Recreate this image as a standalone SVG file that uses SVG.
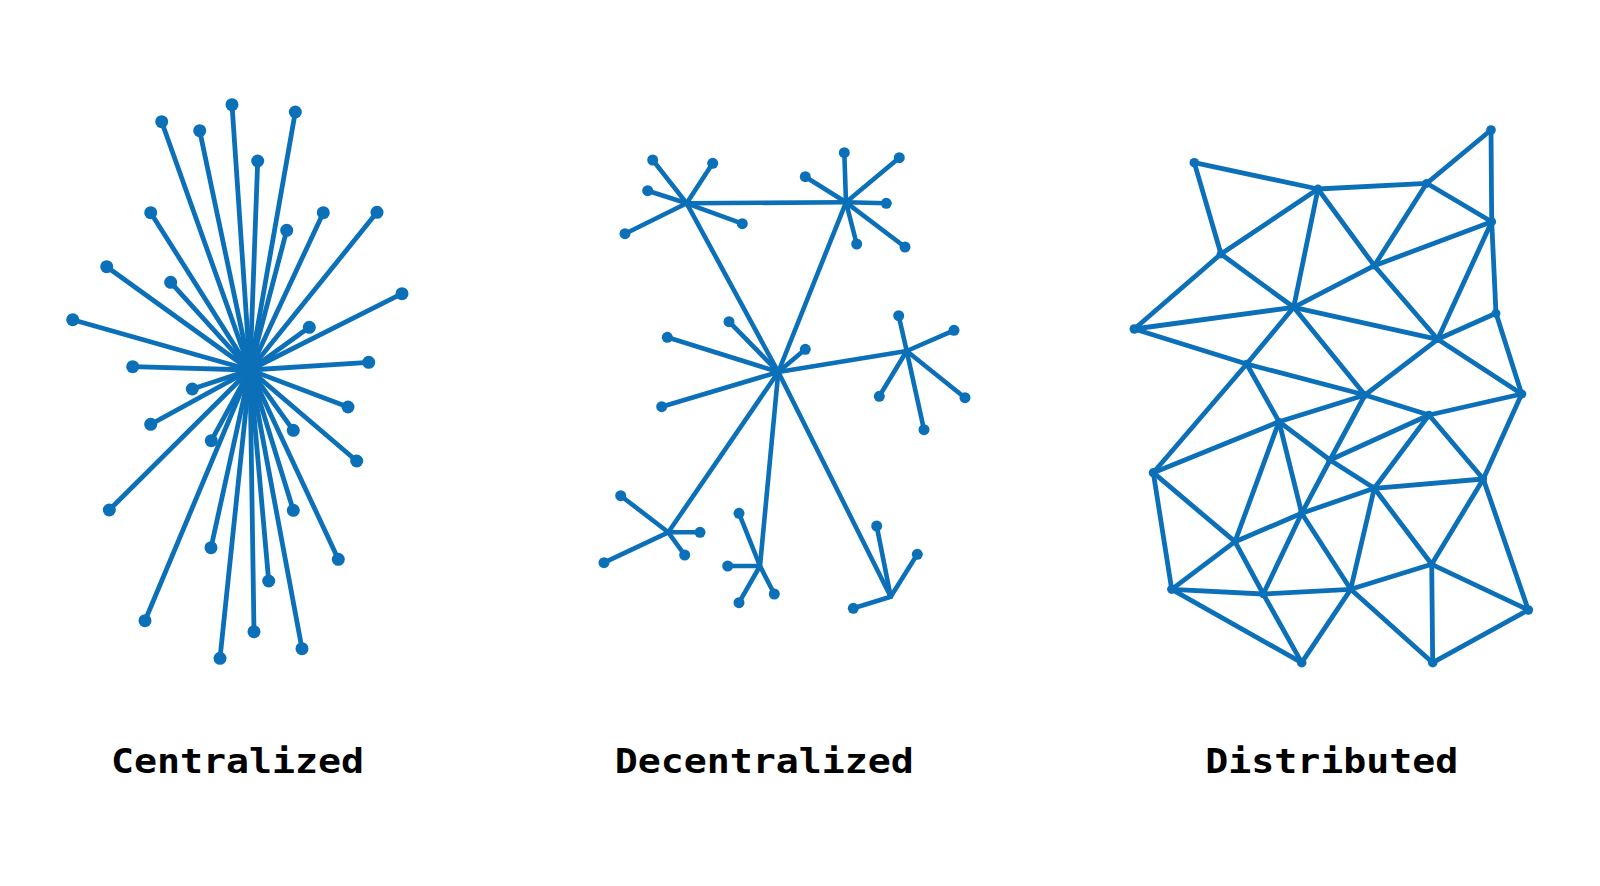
<svg xmlns="http://www.w3.org/2000/svg" width="1600" height="886" viewBox="0 0 1600 886">
<style>
.bg{fill:#ffffff}
.e{stroke:#0b70b8;stroke-linecap:round;fill:none}
.c1 line{stroke-width:4.8}
.c2 line{stroke-width:4.6}
.c3 line{stroke-width:4.8}
.n{fill:#0b70b8}
.lbl{font-family:"DejaVu Sans Mono","Liberation Mono",monospace;font-weight:bold;font-size:34px;fill:#000000}
</style>
<rect class="bg" x="0" y="0" width="1600" height="886"/>

<!-- Centralized -->
<g id="centralized">
<g id="central-connectors" class="e c1">
<line x1="250" y1="370" x2="161.7" y2="121.7"/>
<line x1="250" y1="370" x2="199.7" y2="130.7"/>
<line x1="250" y1="370" x2="232" y2="104.7"/>
<line x1="250" y1="370" x2="257.7" y2="161"/>
<line x1="250" y1="370" x2="295.3" y2="112"/>
<line x1="250" y1="370" x2="150.7" y2="212.7"/>
<line x1="250" y1="370" x2="286.7" y2="230.3"/>
<line x1="250" y1="370" x2="323.3" y2="212.7"/>
<line x1="250" y1="370" x2="377" y2="212.3"/>
<line x1="250" y1="370" x2="106.7" y2="266.7"/>
<line x1="250" y1="370" x2="170.7" y2="282.3"/>
<line x1="250" y1="370" x2="402" y2="293.7"/>
<line x1="250" y1="370" x2="72.7" y2="319.7"/>
<line x1="250" y1="370" x2="309.3" y2="327.3"/>
<line x1="250" y1="370" x2="132.7" y2="366.7"/>
<line x1="250" y1="370" x2="368.7" y2="362.3"/>
<line x1="250" y1="370" x2="192.3" y2="389"/>
<line x1="250" y1="370" x2="348" y2="407"/>
<line x1="250" y1="370" x2="150.7" y2="424.3"/>
<line x1="250" y1="370" x2="211.3" y2="440.7"/>
<line x1="250" y1="370" x2="293.3" y2="430.3"/>
<line x1="250" y1="370" x2="356.7" y2="461"/>
<line x1="250" y1="370" x2="109.3" y2="510"/>
<line x1="250" y1="370" x2="293.3" y2="510.3"/>
<line x1="250" y1="370" x2="211" y2="547.7"/>
<line x1="250" y1="370" x2="338.3" y2="559.3"/>
<line x1="250" y1="370" x2="268.7" y2="581"/>
<line x1="250" y1="370" x2="145" y2="620.7"/>
<line x1="250" y1="370" x2="254" y2="631.7"/>
<line x1="250" y1="370" x2="302" y2="648.7"/>
<line x1="250" y1="370" x2="220" y2="658.3"/>
</g>
<g id="central-nodes" class="n">
<circle cx="161.7" cy="121.7" r="6.5"/>
<circle cx="199.7" cy="130.7" r="6.5"/>
<circle cx="232" cy="104.7" r="6.5"/>
<circle cx="257.7" cy="161" r="6.5"/>
<circle cx="295.3" cy="112" r="6.5"/>
<circle cx="150.7" cy="212.7" r="6.5"/>
<circle cx="286.7" cy="230.3" r="6.5"/>
<circle cx="323.3" cy="212.7" r="6.5"/>
<circle cx="377" cy="212.3" r="6.5"/>
<circle cx="106.7" cy="266.7" r="6.5"/>
<circle cx="170.7" cy="282.3" r="6.5"/>
<circle cx="402" cy="293.7" r="6.5"/>
<circle cx="72.7" cy="319.7" r="6.5"/>
<circle cx="309.3" cy="327.3" r="6.5"/>
<circle cx="132.7" cy="366.7" r="6.5"/>
<circle cx="368.7" cy="362.3" r="6.5"/>
<circle cx="192.3" cy="389" r="6.5"/>
<circle cx="348" cy="407" r="6.5"/>
<circle cx="150.7" cy="424.3" r="6.5"/>
<circle cx="211.3" cy="440.7" r="6.5"/>
<circle cx="293.3" cy="430.3" r="6.5"/>
<circle cx="356.7" cy="461" r="6.5"/>
<circle cx="109.3" cy="510" r="6.5"/>
<circle cx="293.3" cy="510.3" r="6.5"/>
<circle cx="211" cy="547.7" r="6.5"/>
<circle cx="338.3" cy="559.3" r="6.5"/>
<circle cx="268.7" cy="581" r="6.5"/>
<circle cx="145" cy="620.7" r="6.5"/>
<circle cx="254" cy="631.7" r="6.5"/>
<circle cx="302" cy="648.7" r="6.5"/>
<circle cx="220" cy="658.3" r="6.5"/>
</g>
<g id="central-hub" class="n"><circle cx="250" cy="370" r="7"/></g>
</g>

<!-- Decentralized -->
<g id="decentralized">
<g id="decentral-connectors" class="e c2">
<line x1="686.7" y1="203.3" x2="846" y2="202.3"/>
<line x1="686.7" y1="203.3" x2="778.3" y2="372"/>
<line x1="846" y1="202.3" x2="778.3" y2="372"/>
<line x1="778.3" y1="372" x2="906.7" y2="351"/>
<line x1="778.3" y1="372" x2="668.3" y2="532.3"/>
<line x1="778.3" y1="372" x2="760" y2="566"/>
<line x1="778.3" y1="372" x2="890.7" y2="596.7"/>
<line x1="686.7" y1="203.3" x2="652.7" y2="160"/>
<line x1="686.7" y1="203.3" x2="712.7" y2="163.3"/>
<line x1="686.7" y1="203.3" x2="647.7" y2="190.7"/>
<line x1="686.7" y1="203.3" x2="742.3" y2="223.7"/>
<line x1="686.7" y1="203.3" x2="625" y2="233.7"/>
<line x1="846" y1="202.3" x2="844.3" y2="152.7"/>
<line x1="846" y1="202.3" x2="899.3" y2="157.7"/>
<line x1="846" y1="202.3" x2="805.3" y2="176.7"/>
<line x1="846" y1="202.3" x2="886.3" y2="203.3"/>
<line x1="846" y1="202.3" x2="856.7" y2="244"/>
<line x1="846" y1="202.3" x2="905" y2="247"/>
<line x1="778.3" y1="372" x2="667.3" y2="337.3"/>
<line x1="778.3" y1="372" x2="729" y2="321.7"/>
<line x1="778.3" y1="372" x2="805.3" y2="349.3"/>
<line x1="778.3" y1="372" x2="661.7" y2="406.7"/>
<line x1="906.7" y1="351" x2="898.7" y2="315.7"/>
<line x1="906.7" y1="351" x2="954" y2="330.3"/>
<line x1="906.7" y1="351" x2="879.3" y2="396.3"/>
<line x1="906.7" y1="351" x2="965" y2="397.7"/>
<line x1="906.7" y1="351" x2="924" y2="429.7"/>
<line x1="668.3" y1="532.3" x2="620.7" y2="495.7"/>
<line x1="668.3" y1="532.3" x2="700" y2="532.3"/>
<line x1="668.3" y1="532.3" x2="684.7" y2="555"/>
<line x1="668.3" y1="532.3" x2="604" y2="562.7"/>
<line x1="760" y1="566" x2="739" y2="513.3"/>
<line x1="760" y1="566" x2="727.7" y2="566"/>
<line x1="760" y1="566" x2="774.3" y2="594"/>
<line x1="760" y1="566" x2="739" y2="602.7"/>
<line x1="890.7" y1="596.7" x2="876.7" y2="526"/>
<line x1="890.7" y1="596.7" x2="917.3" y2="554.3"/>
<line x1="890.7" y1="596.7" x2="853.3" y2="608.3"/>
</g>
<g id="decentral-nodes" class="n">
<circle cx="652.7" cy="160" r="5.5"/>
<circle cx="712.7" cy="163.3" r="5.5"/>
<circle cx="647.7" cy="190.7" r="5.5"/>
<circle cx="742.3" cy="223.7" r="5.5"/>
<circle cx="625" cy="233.7" r="5.5"/>
<circle cx="844.3" cy="152.7" r="5.5"/>
<circle cx="899.3" cy="157.7" r="5.5"/>
<circle cx="805.3" cy="176.7" r="5.5"/>
<circle cx="886.3" cy="203.3" r="5.5"/>
<circle cx="856.7" cy="244" r="5.5"/>
<circle cx="905" cy="247" r="5.5"/>
<circle cx="667.3" cy="337.3" r="5.5"/>
<circle cx="729" cy="321.7" r="5.5"/>
<circle cx="805.3" cy="349.3" r="5.5"/>
<circle cx="661.7" cy="406.7" r="5.5"/>
<circle cx="898.7" cy="315.7" r="5.5"/>
<circle cx="954" cy="330.3" r="5.5"/>
<circle cx="879.3" cy="396.3" r="5.5"/>
<circle cx="965" cy="397.7" r="5.5"/>
<circle cx="924" cy="429.7" r="5.5"/>
<circle cx="620.7" cy="495.7" r="5.5"/>
<circle cx="700" cy="532.3" r="5.5"/>
<circle cx="684.7" cy="555" r="5.5"/>
<circle cx="604" cy="562.7" r="5.5"/>
<circle cx="739" cy="513.3" r="5.5"/>
<circle cx="727.7" cy="566" r="5.5"/>
<circle cx="774.3" cy="594" r="5.5"/>
<circle cx="739" cy="602.7" r="5.5"/>
<circle cx="876.7" cy="526" r="5.5"/>
<circle cx="917.3" cy="554.3" r="5.5"/>
<circle cx="853.3" cy="608.3" r="5.5"/>
</g>
</g>

<!-- Distributed -->
<g id="distributed">
<g id="distributed-connectors" class="e c3">
<line x1="1194.3" y1="162.7" x2="1318" y2="189"/>
<line x1="1194.3" y1="162.7" x2="1221" y2="254"/>
<line x1="1318" y1="189" x2="1426.7" y2="183.3"/>
<line x1="1426.7" y1="183.3" x2="1491" y2="130"/>
<line x1="1491" y1="130" x2="1491.7" y2="221.7"/>
<line x1="1426.7" y1="183.3" x2="1491.7" y2="221.7"/>
<line x1="1318" y1="189" x2="1221" y2="254"/>
<line x1="1318" y1="189" x2="1293.7" y2="307.3"/>
<line x1="1318" y1="189" x2="1374.3" y2="265.7"/>
<line x1="1426.7" y1="183.3" x2="1374.3" y2="265.7"/>
<line x1="1374.3" y1="265.7" x2="1491.7" y2="221.7"/>
<line x1="1221" y1="254" x2="1293.7" y2="307.3"/>
<line x1="1221" y1="254" x2="1134.3" y2="329"/>
<line x1="1134.3" y1="329" x2="1293.7" y2="307.3"/>
<line x1="1293.7" y1="307.3" x2="1374.3" y2="265.7"/>
<line x1="1491.7" y1="221.7" x2="1437.7" y2="339.3"/>
<line x1="1491.7" y1="221.7" x2="1496" y2="313.3"/>
<line x1="1374.3" y1="265.7" x2="1437.7" y2="339.3"/>
<line x1="1293.7" y1="307.3" x2="1437.7" y2="339.3"/>
<line x1="1496" y1="313.3" x2="1437.7" y2="339.3"/>
<line x1="1496" y1="313.3" x2="1521.7" y2="394"/>
<line x1="1437.7" y1="339.3" x2="1365" y2="395"/>
<line x1="1437.7" y1="339.3" x2="1521.7" y2="394"/>
<line x1="1134.3" y1="329" x2="1246.7" y2="364"/>
<line x1="1293.7" y1="307.3" x2="1246.7" y2="364"/>
<line x1="1293.7" y1="307.3" x2="1365" y2="395"/>
<line x1="1246.7" y1="364" x2="1365" y2="395"/>
<line x1="1246.7" y1="364" x2="1153.3" y2="472.7"/>
<line x1="1246.7" y1="364" x2="1279" y2="421.7"/>
<line x1="1365" y1="395" x2="1429" y2="415"/>
<line x1="1521.7" y1="394" x2="1429" y2="415"/>
<line x1="1365" y1="395" x2="1279" y2="421.7"/>
<line x1="1365" y1="395" x2="1330" y2="460"/>
<line x1="1521.7" y1="394" x2="1483.3" y2="479"/>
<line x1="1279" y1="421.7" x2="1153.3" y2="472.7"/>
<line x1="1279" y1="421.7" x2="1330" y2="460"/>
<line x1="1279" y1="421.7" x2="1301.7" y2="513.3"/>
<line x1="1279" y1="421.7" x2="1235" y2="541.7"/>
<line x1="1330" y1="460" x2="1429" y2="415"/>
<line x1="1330" y1="460" x2="1374.3" y2="488.3"/>
<line x1="1330" y1="460" x2="1301.7" y2="513.3"/>
<line x1="1429" y1="415" x2="1374.3" y2="488.3"/>
<line x1="1429" y1="415" x2="1483.3" y2="479"/>
<line x1="1374.3" y1="488.3" x2="1483.3" y2="479"/>
<line x1="1374.3" y1="488.3" x2="1301.7" y2="513.3"/>
<line x1="1374.3" y1="488.3" x2="1431.7" y2="564.3"/>
<line x1="1483.3" y1="479" x2="1431.7" y2="564.3"/>
<line x1="1483.3" y1="479" x2="1528.3" y2="610"/>
<line x1="1153.3" y1="472.7" x2="1235" y2="541.7"/>
<line x1="1153.3" y1="472.7" x2="1171.7" y2="589.3"/>
<line x1="1235" y1="541.7" x2="1301.7" y2="513.3"/>
<line x1="1235" y1="541.7" x2="1171.7" y2="589.3"/>
<line x1="1235" y1="541.7" x2="1263.3" y2="594"/>
<line x1="1301.7" y1="513.3" x2="1263.3" y2="594"/>
<line x1="1301.7" y1="513.3" x2="1350.7" y2="589.3"/>
<line x1="1374.3" y1="488.3" x2="1350.7" y2="589.3"/>
<line x1="1350.7" y1="589.3" x2="1431.7" y2="564.3"/>
<line x1="1171.7" y1="589.3" x2="1263.3" y2="594"/>
<line x1="1263.3" y1="594" x2="1350.7" y2="589.3"/>
<line x1="1171.7" y1="589.3" x2="1301.7" y2="662.7"/>
<line x1="1263.3" y1="594" x2="1301.7" y2="662.7"/>
<line x1="1350.7" y1="589.3" x2="1301.7" y2="662.7"/>
<line x1="1350.7" y1="589.3" x2="1432.7" y2="662.7"/>
<line x1="1431.7" y1="564.3" x2="1432.7" y2="662.7"/>
<line x1="1431.7" y1="564.3" x2="1528.3" y2="610"/>
<line x1="1432.7" y1="662.7" x2="1528.3" y2="610"/>
</g>
<g id="distributed-nodes" class="n">
<circle cx="1194.3" cy="162.7" r="4.8"/>
<circle cx="1318" cy="189" r="4.4"/>
<circle cx="1426.7" cy="183.3" r="4.4"/>
<circle cx="1491" cy="130" r="4.8"/>
<circle cx="1491.7" cy="221.7" r="4.4"/>
<circle cx="1221" cy="254" r="4.4"/>
<circle cx="1374.3" cy="265.7" r="3.8"/>
<circle cx="1293.7" cy="307.3" r="3.8"/>
<circle cx="1134.3" cy="329" r="4.8"/>
<circle cx="1496" cy="313.3" r="4.4"/>
<circle cx="1437.7" cy="339.3" r="3.8"/>
<circle cx="1246.7" cy="364" r="4.2"/>
<circle cx="1365" cy="395" r="3.8"/>
<circle cx="1521.7" cy="394" r="4.6"/>
<circle cx="1429" cy="415" r="4.2"/>
<circle cx="1279" cy="421.7" r="3.8"/>
<circle cx="1153.3" cy="472.7" r="4.6"/>
<circle cx="1330" cy="460" r="3.8"/>
<circle cx="1374.3" cy="488.3" r="3.8"/>
<circle cx="1483.3" cy="479" r="3.8"/>
<circle cx="1301.7" cy="513.3" r="3.8"/>
<circle cx="1235" cy="541.7" r="3.8"/>
<circle cx="1431.7" cy="564.3" r="3.8"/>
<circle cx="1171.7" cy="589.3" r="4.6"/>
<circle cx="1263.3" cy="594" r="4.2"/>
<circle cx="1350.7" cy="589.3" r="3.8"/>
<circle cx="1528.3" cy="610" r="4.8"/>
<circle cx="1301.7" cy="662.7" r="4.8"/>
<circle cx="1432.7" cy="662.7" r="4.8"/>
</g>
</g>

<g id="labels">
<text class="lbl" x="111" y="773" textLength="253" lengthAdjust="spacingAndGlyphs">Centralized</text>
<text class="lbl" x="614.7" y="773" textLength="299" lengthAdjust="spacingAndGlyphs">Decentralized</text>
<text class="lbl" x="1205.2" y="773" textLength="253" lengthAdjust="spacingAndGlyphs">Distributed</text>
</g>
</svg>
